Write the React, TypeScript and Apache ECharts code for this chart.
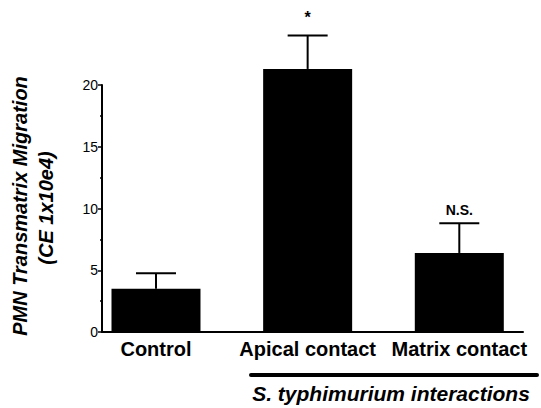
import React, { useEffect, useRef } from "react";
import * as echarts from "echarts";

const categories = ["Control", "Apical contact", "Matrix contact"];
const means = [3.5, 21.3, 6.4];
const errors = [1.25, 2.7, 2.4];
const sigLabels = ["", "*", "N.S."];
const yTicks = { min: 0, max: 20, interval: 5 };
const yTitleLines = ["PMN Transmatrix Migration", "(CE 1x10e4)"];
const groupLabel = "S. typhimurium interactions";

const FONT = '"Liberation Sans", Arial, Helvetica, sans-serif';

export default function App() {
  const ref = useRef<HTMLDivElement>(null);
  useEffect(() => {
    if (!ref.current) return;
    const chart = echarts.init(ref.current, null, { renderer: "svg" });
    const option = {
      animation: false,
      backgroundColor: "#fff",
      grid: { left: 102, right: 18, top: 85, bottom: 76, containLabel: false },
      xAxis: {
        type: "value",
        min: -0.356,
        max: 2.42,
        axisLine: { show: true, onZero: false, lineStyle: { color: "#000", width: 2 } },
        axisTick: { show: false },
        splitLine: { show: false },
        axisLabel: {
          customValues: [0, 1, 2],
          formatter: (v: number) => categories[Math.round(v)] ?? "",
          color: "#000",
          fontFamily: FONT,
          fontWeight: "bold",
          fontSize: 20,
          margin: 7,
        },
      },
      yAxis: {
        type: "value",
        min: yTicks.min,
        max: yTicks.max,
        interval: yTicks.interval,
        axisLine: { show: true, onZero: false, lineStyle: { color: "#000", width: 2 } },
        axisTick: { show: true, length: 4, lineStyle: { color: "#000", width: 1.5 } },
        minorTick: { show: true, splitNumber: 2, length: 2, lineStyle: { color: "#000", width: 1.5 } },
        splitLine: { show: false },
        axisLabel: { color: "#000", fontFamily: FONT, fontSize: 14, margin: 4 },
      },
      series: [
        {
          type: "bar",
          clip: false,
          data: categories.map((_, i) => [i, means[i]]),
          barWidth: 89,
          itemStyle: { color: "#000" },
        },
        {
          type: "custom",
          clip: false,
          data: categories.map((_, i) => [i, means[i], errors[i]]),
          z: 5,
          renderItem: (params: any, api: any) => {
            const x = api.value(0);
            const m = api.value(1);
            const e = api.value(2);
            const base = api.coord([x, m]);
            const top = api.coord([x, m + e]);
            const half = 20;
            const lbl = sigLabels[params.dataIndex];
            const children: any[] = [
              { type: "line", shape: { x1: base[0], y1: base[1], x2: top[0], y2: top[1] }, style: { stroke: "#000", lineWidth: 2 } },
              { type: "line", shape: { x1: top[0] - half, y1: top[1], x2: top[0] + half, y2: top[1] }, style: { stroke: "#000", lineWidth: 2 } },
            ];
            if (lbl) {
              children.push({
                type: "text",
                style: {
                  text: lbl,
                  x: top[0],
                  y: top[1] - (lbl === "*" ? 10 : 6),
                  align: "center",
                  verticalAlign: "bottom",
                  fill: "#000",
                  font: `bold ${lbl === "*" ? 16 : 14}px ${FONT}`,
                },
              });
            }
            return { type: "group", children };
          },
        },
      ],
      graphic: [
        {
          type: "text",
          x: 20,
          y: 206,
          rotation: Math.PI / 2,
          style: { text: yTitleLines[0], align: "center", verticalAlign: "middle", fill: "#000", font: `italic bold 20px ${FONT}` },
        },
        {
          type: "text",
          x: 46,
          y: 208,
          rotation: Math.PI / 2,
          style: { text: yTitleLines[1], align: "center", verticalAlign: "middle", fill: "#000", font: `italic bold 20px ${FONT}` },
        },
        {
          type: "line",
          shape: { x1: 251, y1: 375, x2: 537, y2: 375 },
          style: { stroke: "#000", lineWidth: 4, lineCap: "round" },
        },
        {
          type: "text",
          x: 391,
          y: 393,
          style: { text: groupLabel, align: "center", verticalAlign: "middle", fill: "#000", font: `italic bold 21px ${FONT}` },
        },
      ],
    };
    chart.setOption(option as any);
    return () => chart.dispose();
  }, []);
  return <div ref={ref} style={{ position: "fixed", left: 0, top: 0, width: 541, height: 408 }} />;
}
